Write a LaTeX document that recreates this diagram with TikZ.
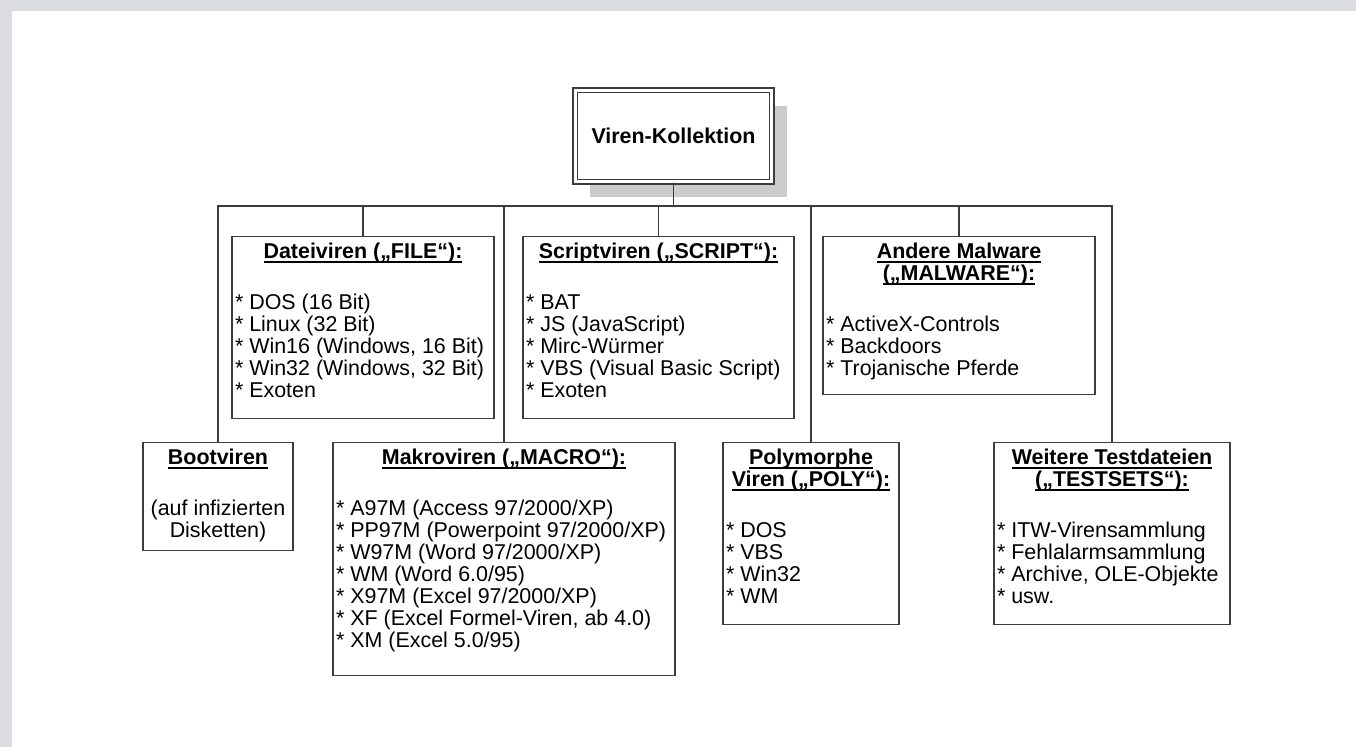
\documentclass[tikz,border=0pt]{standalone}
\usepackage{fontspec}
\setmainfont{Liberation Sans}
\usetikzlibrary{shadows}

\definecolor{rand}{RGB}{220,221,224}
\definecolor{linie}{RGB}{60,60,60}
\definecolor{schatten}{RGB}{204,204,204}

\tikzset{
	kasten/.style={draw=linie, line width=0.7pt, anchor=north, fill=white,
		inner xsep=0.06cm, inner ysep=0.12cm,
		font=\fontsize{12.2}{12.6}\selectfont},
	wurzelkasten/.style={draw=linie, double, double distance=1.7pt, line width=0.6pt,
		fill=white, minimum width=3.94cm, minimum height=1.84cm,
		font=\bfseries\fontsize{12.2}{14}\selectfont,
		drop shadow={shadow xshift=0.3cm, shadow yshift=-0.31cm, fill=schatten, opacity=1}},
	verbinder/.style={draw=linie, line width=0.7pt}
}

% contenu d'une boîte : largeur, hauteur, texte
\newsavebox{\strichbox}
\newcommand{\unterstr}[1]{\leavevmode\sbox{\strichbox}{#1}\rlap{\rule[-2.5pt]{\wd\strichbox}{0.8pt}}\usebox{\strichbox}}
\newcommand{\inhalt}[3]{\parbox[c][#2][t]{#1}{\raggedright #3}}
\newcommand{\titel}[1]{{\centering\bfseries #1\par}\vspace{0.575cm}}
\newcommand{\punkt}[1]{* #1\par}

\begin{document}
\begin{tikzpicture}[x=0.02cm, y=-0.02cm]
	\useasboundingbox (0,0) rectangle (1356,747);

	% Fond (bord gris en haut et à gauche)
	\fill[rand] (0,0) rectangle (1356,747);
	\fill[white] (12,11) rectangle (1356,747);

	% Racine
	\node[wurzelkasten] (wurzel) at (673.5,136) {Viren-Kollektion};
	\coordinate (bus) at (673.5,206);

	% Boîtes du haut
	\node[kasten] (datei) at (363,236) {\inhalt{5.12cm}{3.40cm}{%
		\titel{\unterstr{Dateiviren („FILE“):}}
		\punkt{DOS (16 Bit)}
		\punkt{Linux (32 Bit)}
		\punkt{Win16 (Windows, 16 Bit)}
		\punkt{Win32 (Windows, 32 Bit)}
		\punkt{Exoten}}};

	\node[kasten] (script) at (658.5,236) {\inhalt{5.30cm}{3.40cm}{%
		\titel{\unterstr{Scriptviren („SCRIPT“):}}
		\punkt{BAT}
		\punkt{JS (JavaScript)}
		\punkt{Mirc-Würmer}
		\punkt{VBS (Visual Basic Script)}
		\punkt{Exoten}}};

	\node[kasten] (malware) at (959,236) {\inhalt{5.32cm}{2.92cm}{%
		\titel{\unterstr{Andere Malware}\\\unterstr{(„MALWARE“):}}
		\punkt{ActiveX-Controls}
		\punkt{Backdoors}
		\punkt{Trojanische Pferde}}};

	% Boîtes du bas
	\node[kasten] (boot) at (218,442) {\inhalt{2.88cm}{1.92cm}{%
		\titel{\unterstr{Bootviren}}
		{\centering (auf infizierten\\Disketten)\par}}};

	\node[kasten] (makro) at (504,442) {\inhalt{6.72cm}{4.42cm}{%
		\titel{\unterstr{Makroviren („MACRO“):}}
		\punkt{A97M (Access 97/2000/XP)}
		\punkt{PP97M (Powerpoint 97/2000/XP)}
		\punkt{W97M (Word 97/2000/XP)}
		\punkt{WM (Word 6.0/95)}
		\punkt{X97M (Excel 97/2000/XP)}
		\punkt{XF (Excel Formel-Viren, ab 4.0)}
		\punkt{XM (Excel 5.0/95)}}};

	\node[kasten] (poly) at (811,442) {\inhalt{3.40cm}{3.40cm}{%
		\titel{\unterstr{Polymorphe}\\\unterstr{Viren („POLY“):}}
		\punkt{DOS}
		\punkt{VBS}
		\punkt{Win32}
		\punkt{WM}}};

	\node[kasten] (test) at (1112,442) {\inhalt{4.60cm}{3.40cm}{%
		\titel{\unterstr{Weitere Testdateien}\\\unterstr{(„TESTSETS“):}}
		\punkt{ITW-Virensammlung}
		\punkt{Fehlalarmsammlung}
		\punkt{Archive, OLE-Objekte}
		\punkt{usw.}}};

	% Liaisons (racine -> boîtes)
	\draw[verbinder] (wurzel.south) -- (bus) -| (boot.north);    % Bootviren
	\draw[verbinder] (wurzel.south) -- (bus) -| (datei.north);   % Dateiviren
	\draw[verbinder] (wurzel.south) -- (bus) -| (makro.north);   % Makroviren
	\draw[verbinder] (wurzel.south) -- (bus) -| (script.north);  % Scriptviren
	\draw[verbinder] (wurzel.south) -- (bus) -| (poly.north);    % Polymorphe
	\draw[verbinder] (wurzel.south) -- (bus) -| (malware.north); % Andere Malware
	\draw[verbinder] (wurzel.south) -- (bus) -| (test.north);    % Testdateien

\end{tikzpicture}
\end{document}
